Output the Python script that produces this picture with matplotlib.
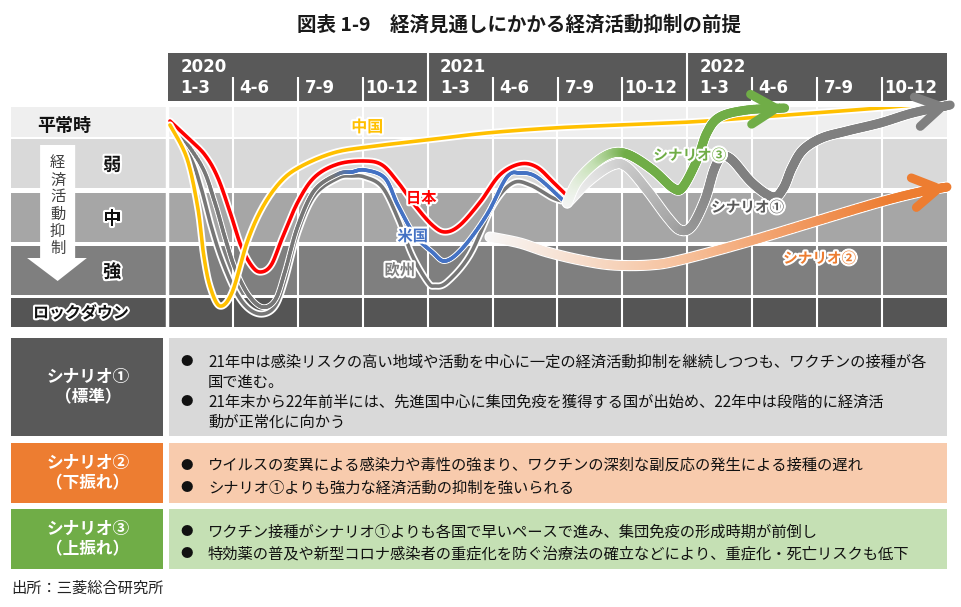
import matplotlib
matplotlib.use('Agg')
import matplotlib.pyplot as plt
import matplotlib.patheffects as pe
from matplotlib.collections import LineCollection
from matplotlib.colors import to_rgb
from matplotlib.patches import Rectangle
import numpy as np

plt.rcParams['font.family'] = ['Noto Sans CJK JP', 'DejaVu Sans']

# --- 1. DATOS ---
years = ['2020', '2021', '2022']
quarters = ['1-3', '4-6', '7-9', '10-12']

# bandas de nivel de restricción (0 = arriba del gráfico)
band_names = ['平常時', '弱', '中', '強', 'ロックダウン']
band_top = [0, 32, 86, 139, 191]
band_bottom = [30, 81, 135, 188, 220]
band_colors = ['#efefef', '#d9d9d9', '#a6a6a6', '#7f7f7f', '#555555']

# curvas por país (x = trimestre desde 2020 1-3, y = nivel de restricción)
china_q = [0.03, 0.29, 0.46, 0.55, 0.65, 0.80, 0.99, 1.22, 1.45, 1.73, 2.03, 2.54,
           3.07, 3.99, 4.91, 5.93, 6.96, 8.04, 8.92, 9.94, 10.97, 11.66]
china_y = [18, 51, 101, 148, 180, 199, 185, 135, 101, 75, 60, 46,
           40, 33, 26, 21, 18, 15, 11, 6, 1, -3]

japan_q = [0.03, 0.31, 0.57, 0.77, 0.97, 1.12, 1.28, 1.42, 1.59, 1.76, 2.00, 2.26, 2.62,
           3.03, 3.30, 3.54, 3.80, 4.07, 4.27, 4.50, 4.81, 5.11, 5.42, 5.68, 5.93, 6.12]
japan_y = [14, 31, 48, 71, 108, 138, 158, 165, 158, 131, 95, 70, 57,
           54, 58, 75, 98, 118, 125, 118, 95, 68, 57, 60, 75, 87]

us_q = [0.06, 0.51, 0.72, 0.88, 1.03, 1.23, 1.45, 1.65, 1.80, 2.00, 2.26, 2.62, 2.83,
        3.03, 3.34, 3.54, 3.80, 4.07, 4.27, 4.54, 4.91, 5.22, 5.42, 5.68, 6.08]
us_y = [16, 58, 95, 131, 161, 187, 200, 193, 165, 119, 83, 67, 65,
        63, 71, 98, 128, 145, 154, 141, 108, 70, 66, 70, 93]

eu_q = [0.03, 0.35, 0.51, 0.66, 0.82, 1.03, 1.23, 1.45, 1.65, 1.80, 2.00, 2.26, 2.62, 2.83,
        3.03, 3.30, 3.54, 3.76, 4.00, 4.11, 4.30, 4.65, 5.01, 5.31, 5.58, 5.93, 6.15]
eu_y = [17, 51, 81, 118, 151, 183, 201, 207, 199, 173, 125, 88, 71, 69,
        70, 80, 111, 148, 175, 179, 175, 148, 98, 76, 78, 91, 95]

# escenarios
sc1_q = [6.15, 6.50, 6.85, 7.07, 7.38, 7.69, 7.89, 8.07, 8.27, 8.41, 8.53, 8.69, 9.00,
         9.32, 9.48, 9.61, 9.78, 10.07, 10.46, 10.97, 11.47, 12.05]
sc1_y = [96, 73, 58, 60, 83, 110, 123, 119, 93, 63, 50, 53, 76,
         90, 81, 61, 43, 31, 24, 16, 6, -2]

sc2_q = [4.96, 5.42, 5.84, 6.35, 6.85, 7.42, 7.89, 8.92, 9.94, 10.97, 11.58, 12.0]
sc2_y = [130, 136, 145, 153, 158, 158, 153, 135, 115, 95, 85, 80]

sc3_q = [6.15, 6.30, 6.58, 6.85, 7.11, 7.47, 7.78, 7.93, 8.15, 8.30, 8.50, 8.92, 9.50]
sc3_y = [96, 75, 56, 46, 48, 63, 81, 80, 53, 26, 10, 3, 1]

title = '図表 1-9　経済見通しにかかる経済活動抑制の前提'
source = '出所：三菱総合研究所'

table_labels = ['シナリオ①\n（標準）', 'シナリオ②\n（下振れ）', 'シナリオ③\n（上振れ）']
table_bullets = [
    ['21年中は感染リスクの高い地域や活動を中心に一定の経済活動抑制を継続しつつも、ワクチンの接種が各\n国で進む。',
     '21年末から22年前半には、先進国中心に集団免疫を獲得する国が出始め、22年中は段階的に経済活\n動が正常化に向かう'],
    ['ウイルスの変異による感染力や毒性の強まり、ワクチンの深刻な副反応の発生による接種の遅れ',
     'シナリオ①よりも強力な経済活動の抑制を強いられる'],
    ['ワクチン接種がシナリオ①よりも各国で早いペースで進み、集団免疫の形成時期が前倒し',
     '特効薬の普及や新型コロナ感染者の重症化を防ぐ治療法の確立などにより、重症化・死亡リスクも低下'],
]
table_label_colors = ['#595959', '#ed7d31', '#70ad47']
table_box_colors = ['#d9d9d9', '#f8cbad', '#c5e0b4']


# --- 2. FUNCIONES AUXILIARES ---
def smooth(xs, ys, n=16):
    # curva suave (Catmull-Rom) que pasa por los puntos leídos
    p = np.column_stack([xs, ys]).astype(float)
    p = np.vstack([p[0], p, p[-1]])
    out = []
    t = np.linspace(0, 1, n, endpoint=False)[:, None]
    for i in range(1, len(p) - 2):
        p0, p1, p2, p3 = p[i - 1], p[i], p[i + 1], p[i + 2]
        seg = 0.5 * ((2 * p1) + (-p0 + p2) * t + (2 * p0 - 5 * p1 + 4 * p2 - p3) * t ** 2
                     + (-p0 + 3 * p1 - 3 * p2 + p3) * t ** 3)
        out.append(seg)
    out.append(p[-2][None, :])
    c = np.vstack(out)
    return c[:, 0], c[:, 1]


def gradient_line(ax, xs, ys, stops_q, stops_c, lw, z):
    sx, sy = smooth(xs, ys)
    rgb = np.array([to_rgb(c) for c in stops_c])
    mid = (sx[:-1] + sx[1:]) / 2
    cols = np.column_stack([np.interp(mid, stops_q, rgb[:, k]) for k in range(3)])
    segs = np.stack([np.column_stack([sx[:-1], sy[:-1]]),
                     np.column_stack([sx[1:], sy[1:]])], axis=1)
    ax.plot(sx, sy, color='white', lw=lw + 1.6, solid_capstyle='round', zorder=z - 0.1, clip_on=False)
    lc = LineCollection(segs, colors=cols, linewidths=lw, capstyle='round', zorder=z, clip_on=False)
    ax.add_collection(lc)
    return sx, sy


def arrow_head(ax, sx, sy, color, lw, z):
    ax.annotate('', xy=(sx[-1], sy[-1]), xytext=(sx[-4], sy[-4]),
                arrowprops=dict(arrowstyle='->,head_length=0.75,head_width=0.45', color=color,
                                lw=lw, mutation_scale=24, shrinkA=0, shrinkB=0,
                                joinstyle='round', capstyle='round'),
                zorder=z, annotation_clip=False)


glow = [pe.withStroke(linewidth=3, foreground='white')]

# --- 3. FIGURA ---
fig = plt.figure(figsize=(9.61, 6.07), dpi=100)

# lienzo en píxeles para título y tabla
canvas = fig.add_axes([0, 0, 1, 1])
canvas.set_xlim(0, 961)
canvas.set_ylim(607, 0)
canvas.axis('off')

canvas.text(519, 25, title, ha='center', va='center', fontsize=14, fontweight='bold', color='#1a1a1a')

box_top = [338, 443, 509]
box_bottom = [436, 503, 569]
line_y = [[362, 402], [465, 488], [532, 554]]
for i in range(3):
    h = box_bottom[i] - box_top[i]
    canvas.add_patch(Rectangle((11, box_top[i]), 152, h, color=table_label_colors[i], lw=0))
    canvas.add_patch(Rectangle((169, box_top[i]), 778, h, color=table_box_colors[i], lw=0))
    canvas.text(88, (box_top[i] + box_bottom[i]) / 2, table_labels[i], ha='center', va='center',
                color='white', fontsize=12, fontweight='bold', linespacing=1.2)
    for j, txt in enumerate(table_bullets[i]):
        canvas.text(187, line_y[i][j], '●', ha='center', va='center', fontsize=9, color='#111111')
        for k, part in enumerate(txt.split('\n')):
            canvas.text(208, line_y[i][j] + 20 * k, part, ha='left', va='center',
                        fontsize=11, color='#111111')

canvas.text(11, 588, source, ha='left', va='center', fontsize=11, color='#222222')

# encabezado de trimestres
hdr = fig.add_axes([168 / 961, 1 - 101 / 607, 779 / 961, 48 / 607])
hdr.set_facecolor('#595959')
hdr.set_xlim(0, 12)
hdr.set_ylim(0, 1)
hdr.set_xticks([])
hdr.set_yticks([])
for s in hdr.spines.values():
    s.set_visible(False)
q_offsets = [0.19, 0.1, 0.11, 0.03]
for k in range(1, 12):
    hdr.vlines(k, 0, 1 if k % 4 == 0 else 0.5, color='white', lw=1.5)
for i, yr in enumerate(years):
    hdr.text(4 * i + 0.19, 0.71, yr, ha='left', va='center', color='white', fontsize=12,
             fontweight='bold', family='DejaVu Sans')
    for j, ql in enumerate(quarters):
        hdr.text(4 * i + j + q_offsets[j], 0.27, ql, ha='left', va='center', color='white',
                 fontsize=12, fontweight='bold', family='DejaVu Sans')

# gráfico principal
left_q = (11 - 168) / 64.92
ax = fig.add_axes([11 / 961, 1 - 327 / 607, 936 / 961, 220 / 607])
ax.set_xlim(left_q, 12)
ax.set_ylim(220, 0)
ax.set_facecolor('white')
ax.set_xticks([])
ax.set_yticks([])
for s in ax.spines.values():
    s.set_visible(False)

for t, b, c in zip(band_top, band_bottom, band_colors):
    ax.axhspan(t, b, color=c, lw=0, zorder=0)
for k in range(1, 12):
    ax.axvline(k, color='white', lw=1.5, zorder=1)
ax.axvline(-0.02, color='white', lw=2.5, zorder=1)

# etiquetas de la columna izquierda
ax.text(-1.60, 18, band_names[0], ha='center', va='center', fontsize=13, fontweight='bold', color='#111111', zorder=3)
for name, yy in zip(band_names[1:4], [58, 112, 165]):
    ax.text(-0.86, yy, name, ha='center', va='center', fontsize=13, fontweight='bold',
            color='#111111', path_effects=glow, zorder=3)
ax.text(-1.34, 206, band_names[4], ha='center', va='center', fontsize=11.5, fontweight='bold',
        color='#111111', path_effects=glow, zorder=3)

# flecha blanca vertical
ax.fill([-1.97, -1.43, -1.43, -1.25, -1.70, -2.17, -1.97],
        [38, 38, 151, 151, 174, 151, 151], color='white', lw=0, zorder=2)
for k, ch in enumerate('経済活動抑制'):
    ax.text(-1.70, 56 + 17 * k, ch, ha='center', va='center', fontsize=11, color='#404040', zorder=3)


# curvas de países
def country(xs, ys, color, z):
    sx, sy = smooth(xs, ys)
    ax.plot(sx, sy, color='white', lw=5.2, solid_capstyle='round', zorder=z - 0.1)
    ax.plot(sx, sy, color=color, lw=2.6, solid_capstyle='round', zorder=z)


country(eu_q, eu_y, '#767676', 4)
# EE.UU.: gris al principio, azul después
gradient_line(ax, us_q, us_y, [0, 2.55, 2.85, 12], ['#767676', '#767676', '#4472c4', '#4472c4'], 2.6, 4.5)
country(japan_q, japan_y, '#ff0000', 5)
country(china_q, china_y, '#ffc000', 6)

ax.text(3.07, 20, '中国', ha='center', va='center', fontsize=11.5, fontweight='bold', color='#ffc000', path_effects=glow, zorder=8)
ax.text(3.90, 91, '日本', ha='center', va='center', fontsize=11, fontweight='bold', color='#ff0000', path_effects=glow, zorder=8)
ax.text(3.77, 129, '米国', ha='center', va='center', fontsize=11, fontweight='bold', color='#4472c4', path_effects=glow, zorder=8)
ax.text(3.57, 163, '欧州', ha='center', va='center', fontsize=11, fontweight='bold', color='#7f7f7f', path_effects=glow, zorder=8)

# escenarios
sx, sy = gradient_line(ax, sc2_q, sc2_y, [4.96, 8.0, 10.0, 11.2],
                       ['#f7f7f7', '#f6c09b', '#f09458', '#ed7d31'], 6.4, 7)
arrow_head(ax, sx, sy, '#ed7d31', 6.4, 7)
sx, sy = gradient_line(ax, sc1_q, sc1_y, [6.15, 7.0, 7.9, 8.5, 12],
                       ['#f5f5f5', '#cfcfcf', '#a0a0a0', '#808080', '#7f7f7f'], 6.4, 7.2)
arrow_head(ax, sx, sy, '#7f7f7f', 6.4, 7.2)
sx, sy = gradient_line(ax, sc3_q, sc3_y, [6.15, 6.6, 7.1, 12],
                       ['#f5f5f5', '#c5e0b4', '#70ad47', '#70ad47'], 6.4, 7.4)
arrow_head(ax, sx, sy, '#70ad47', 6.4, 7.4)

ax.text(8.04, 48, 'シナリオ③', ha='center', va='center', fontsize=10.5, fontweight='bold', color='#70ad47', path_effects=glow, zorder=9)
ax.text(8.93, 100, 'シナリオ①', ha='center', va='center', fontsize=10.5, fontweight='bold', color='#595959', path_effects=glow, zorder=9)
ax.text(10.04, 151, 'シナリオ②', ha='center', va='center', fontsize=10.5, fontweight='bold', color='#ed7d31', path_effects=glow, zorder=9)

fig.savefig('out.png', dpi=100)
